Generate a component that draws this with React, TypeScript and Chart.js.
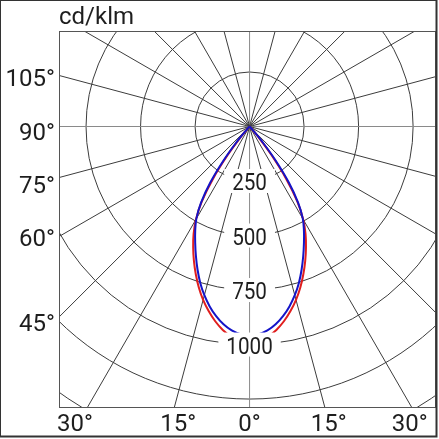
import React, { useEffect, useRef } from 'react';
import { Chart, registerables } from 'chart.js';

Chart.register(...registerables);

// ---- data (cd/klm versus angle from nadir, degrees) ----
const ANGLES = [0, 2.5, 5, 7.5, 10, 12.5, 15, 17.5, 20, 22.5, 25, 27.5, 30, 32.5, 35, 37.5, 40, 42.5, 45];
const RED_CD = [992, 984, 967, 941, 907, 867, 823, 774, 721, 667, 612, 556, 492, 408, 292, 165, 58, 12, 0];
const BLUE_CD = [962, 954, 939, 915, 883, 845, 801, 752, 698, 643, 590, 540, 488, 415, 315, 195, 85, 22, 0];

// ---- grid / ticks ----
const RING_VALUES = [250, 500, 750, 1000, 1250, 1500, 1750];
const RING_LABEL_VALUES = [250, 500, 750, 1000];
const RING_LABELS = ['250', '500', '750', '1000'];
const SPOKE_ANGLES = [0, 15, 30, 45, 60, 75, 90, 105, 120, 135, 150, 165, 180, 195, 210, 225, 240, 255, 270, 285, 300, 315, 330, 345];
// left labels: text and vertical position on the y axis (cd/klm units)
const LEFT_TICK_LABELS = ['105°', '90°', '75°', '60°', '45°'];
const LEFT_TICK_Y = [227, -22, -264, -507, -901];
// bottom labels: text and horizontal position on the x axis (cd/klm units)
const BOTTOM_TICK_LABELS = ['30°', '15°', '0°', '15°', '30°'];
const BOTTOM_TICK_X = [-801, -327, 0, 363, 735];
const UNIT_LABEL = 'cd/klm';

const X_MIN = -874;
const X_MAX = 855;
const Y_MIN = -1291;
const Y_MAX = 438;

const FONT = '24px Roboto, "Noto Sans", sans-serif';
const TEXT_COLOR = '#1e1e1e';
const GRID_COLOR = '#3c3c3c';
const AXIS_GRID_COLOR = '#8a8a8a';

function polarPoints(angles: number[], values: number[]) {
  const pts: { x: number; y: number }[] = [];
  for (let i = angles.length - 1; i >= 0; i--) {
    const a = (angles[i] * Math.PI) / 180;
    pts.push({ x: -values[i] * Math.sin(a), y: -values[i] * Math.cos(a) });
  }
  for (let i = 1; i < angles.length; i++) {
    const a = (angles[i] * Math.PI) / 180;
    pts.push({ x: values[i] * Math.sin(a), y: -values[i] * Math.cos(a) });
  }
  return pts;
}

const gridPlugin = {
  id: 'polarGrid',
  beforeDatasetsDraw(chart: any) {
    const { ctx, chartArea: ca } = chart;
    const xs = chart.scales.x;
    const ys = chart.scales.y;
    const cx = xs.getPixelForValue(0);
    const cy = ys.getPixelForValue(0);
    const k = xs.getPixelForValue(1000) - cx;
    ctx.save();
    ctx.beginPath();
    ctx.rect(ca.left, ca.top, ca.right - ca.left, ca.bottom - ca.top);
    ctx.clip();
    ctx.lineWidth = 1;
    ctx.strokeStyle = GRID_COLOR;
    for (const r of RING_VALUES) {
      ctx.beginPath();
      ctx.arc(cx, cy, (r * k) / 1000, 0, Math.PI * 2);
      ctx.stroke();
    }
    const L = 4000;
    for (const a of SPOKE_ANGLES) {
      const rad = (a * Math.PI) / 180;
      const ex = xs.getPixelForValue(L * Math.sin(rad));
      const ey = ys.getPixelForValue(-L * Math.cos(rad));
      ctx.strokeStyle = a % 90 === 0 ? AXIS_GRID_COLOR : GRID_COLOR;
      ctx.beginPath();
      ctx.moveTo(cx, cy);
      ctx.lineTo(ex, ey);
      ctx.stroke();
    }
    ctx.restore();
  },
  afterDatasetsDraw(chart: any) {
    const { ctx } = chart;
    const xs = chart.scales.x;
    const ys = chart.scales.y;
    ctx.save();
    ctx.font = FONT;
    RING_LABEL_VALUES.forEach((v, i) => {
      const px = xs.getPixelForValue(0);
      const py = ys.getPixelForValue(-v);
      const sx = 0.86;
      const w = ctx.measureText(RING_LABELS[i]).width * sx;
      ctx.fillStyle = '#ffffff';
      ctx.fillRect(px - w / 2 - 8, py - 12, w + 16, 24);
      ctx.fillStyle = TEXT_COLOR;
      ctx.save();
      ctx.translate(px, py + 9);
      ctx.scale(sx, 1);
      ctx.textAlign = 'center';
      ctx.textBaseline = 'alphabetic';
      ctx.fillText(RING_LABELS[i], 0, 0);
      ctx.restore();
    });
    ctx.restore();
  },
  afterDraw(chart: any) {
    const { ctx, chartArea: ca } = chart;
    const xs = chart.scales.x;
    const ys = chart.scales.y;
    ctx.save();
    ctx.font = FONT;
    ctx.fillStyle = TEXT_COLOR;
    ctx.textBaseline = 'alphabetic';
    ctx.textAlign = 'right';
    LEFT_TICK_LABELS.forEach((t, i) => {
      const py = ys.getPixelForValue(LEFT_TICK_Y[i]);
      ctx.fillText(t, ca.left - 4, py + 8.5);
    });
    ctx.textAlign = 'center';
    BOTTOM_TICK_LABELS.forEach((t, i) => {
      const px = xs.getPixelForValue(BOTTOM_TICK_X[i]);
      ctx.fillText(t, px, ca.bottom + 23);
    });
    ctx.textAlign = 'left';
    ctx.fillText(UNIT_LABEL, ca.left, 24);
    ctx.lineWidth = 1;
    ctx.strokeStyle = '#555555';
    ctx.strokeRect(ca.left + 0.5, ca.top + 0.5, ca.right - ca.left - 1, ca.bottom - ca.top - 1);
    ctx.lineWidth = 2;
    ctx.strokeStyle = '#333333';
    ctx.strokeRect(0, 0, 436.5, 436.5);
    ctx.restore();
  },
};

export default function App() {
  const ref = useRef<HTMLCanvasElement | null>(null);
  useEffect(() => {
    if (!ref.current) return;
    const chart = new Chart(ref.current, {
      type: 'scatter',
      data: {
        datasets: [
          {
            label: 'blue',
            data: polarPoints(ANGLES, BLUE_CD),
            showLine: true,
            borderColor: '#1414c8',
            borderWidth: 2,
            pointRadius: 0,
            tension: 0.4,
            fill: false,
          },
          {
            label: 'red',
            data: polarPoints(ANGLES, RED_CD),
            showLine: true,
            borderColor: '#e01e1e',
            borderWidth: 2,
            pointRadius: 0,
            tension: 0.4,
            fill: false,
          },
        ],
      },
      options: {
        responsive: false,
        animation: false,
        layout: { padding: { left: 59, top: 31, right: 3, bottom: 31 } },
        plugins: { legend: { display: false }, tooltip: { enabled: false } },
        scales: {
          x: { type: 'linear', min: X_MIN, max: X_MAX, display: false },
          y: { type: 'linear', min: Y_MIN, max: Y_MAX, display: false },
        },
      },
      plugins: [gridPlugin],
    } as any);
    return () => chart.destroy();
  }, []);
  return (
    <div style={{ position: 'fixed', left: 0, top: 0, width: 439, height: 439, background: '#ffffff' }}>
      <canvas ref={ref} width={439} height={439} style={{ display: 'block' }} />
    </div>
  );
}
